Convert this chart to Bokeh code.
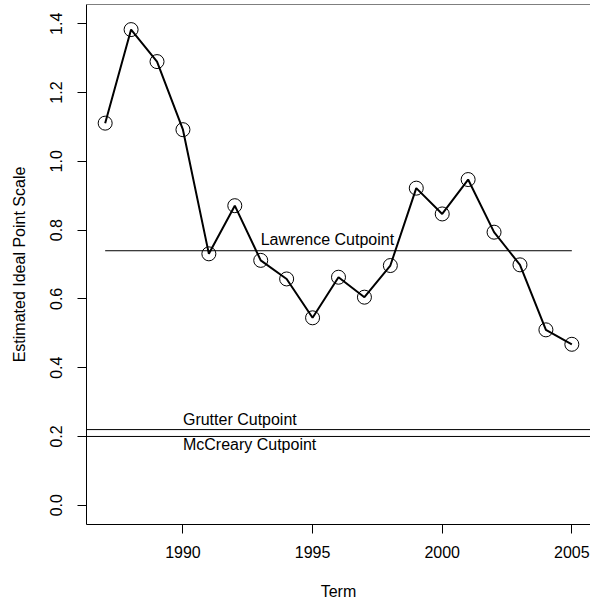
from bokeh.plotting import figure
from bokeh.models import Span, FixedTicker, Range1d, ColumnDataSource
from bokeh.core.properties import value
from bokeh.embed import file_html
from bokeh.resources import INLINE

terms = [1987, 1988, 1989, 1990, 1991, 1992, 1993, 1994, 1995, 1996,
         1997, 1998, 1999, 2000, 2001, 2002, 2003, 2004, 2005]
scores = [1.111, 1.383, 1.290, 1.092, 0.731, 0.871, 0.712, 0.658, 0.545, 0.663,
          0.605, 0.697, 0.922, 0.847, 0.947, 0.794, 0.699, 0.510, 0.468]

lawrence_cut = 0.74
lawrence_span = [1987, 2005]
grutter_cut = 0.22
mccreary_cut = 0.20

x_ticks = [1990, 1995, 2000, 2005]
y_ticks = [0.0, 0.2, 0.4, 0.6, 0.8, 1.0, 1.2, 1.4]
y_tick_labels = {0.0: "0.0", 0.2: "0.2", 0.4: "0.4", 0.6: "0.6",
                 0.8: "0.8", 1.0: "1.0", 1.2: "1.2", 1.4: "1.4"}

FONT = "Liberation Sans"
FS = "16px"

p = figure(width=590, height=602, output_backend="svg", toolbar_location=None,
           x_range=Range1d(1986.28, 2005.72), y_range=Range1d(-0.056, 1.456),
           min_border_left=86, min_border_right=0, min_border_top=4,
           min_border_bottom=78)
p.outline_line_color = None
p.xgrid.visible = False
p.ygrid.visible = False
p.background_fill_color = "white"
p.border_fill_color = "white"

for ax in (p.xaxis[0], p.yaxis[0]):
    ax.axis_line_color = "black"
    ax.axis_line_width = 1
    ax.major_tick_line_color = "black"
    ax.major_tick_in = 0
    ax.major_tick_out = 9
    ax.minor_tick_line_color = None
    ax.major_label_text_font = FONT
    ax.major_label_text_font_size = FS
    ax.major_label_text_color = "black"
    ax.axis_label_text_font = FONT
    ax.axis_label_text_font_size = FS
    ax.axis_label_text_font_style = "normal"
    ax.axis_label_text_color = "black"

p.xaxis.ticker = FixedTicker(ticks=x_ticks)
p.yaxis.ticker = FixedTicker(ticks=y_ticks)
p.yaxis.major_label_overrides = y_tick_labels
p.yaxis.major_label_orientation = "vertical"
p.xaxis.major_label_standoff = 12
p.yaxis.major_label_standoff = 15
p.xaxis.axis_label = "Term"
p.yaxis.axis_label = "Estimated Ideal Point Scale"
p.xaxis.axis_label_standoff = 22
p.yaxis.axis_label_standoff = 20

# top border of the box
p.add_layout(Span(location=p.y_range.end, dimension="width", line_color="black", line_width=1))

# cutpoint lines
p.line(lawrence_span, [lawrence_cut, lawrence_cut], line_color="black", line_width=1)
p.add_layout(Span(location=grutter_cut, dimension="width", line_color="black", line_width=1))
p.add_layout(Span(location=mccreary_cut, dimension="width", line_color="black", line_width=1))

p.text(x=[1993], y=[lawrence_cut], text=["Lawrence Cutpoint"], text_font=value(FONT),
       text_font_size=FS, text_color="black", text_align="left",
       text_baseline="alphabetic", y_offset=-11)
p.text(x=[1990], y=[grutter_cut], text=["Grutter Cutpoint"], text_font=value(FONT),
       text_font_size=FS, text_color="black", text_align="left",
       text_baseline="alphabetic", y_offset=-10)
p.text(x=[1990], y=[mccreary_cut], text=["McCreary Cutpoint"], text_font=value(FONT),
       text_font_size=FS, text_color="black", text_align="left",
       text_baseline="alphabetic", y_offset=8)

src = ColumnDataSource(dict(term=terms, score=scores))
p.line("term", "score", source=src, line_color="black", line_width=2)
p.scatter("term", "score", source=src, marker="circle", size=14,
          fill_color=None, line_color="black", line_width=1)

open("out.html", "w").write(file_html(p, INLINE))
